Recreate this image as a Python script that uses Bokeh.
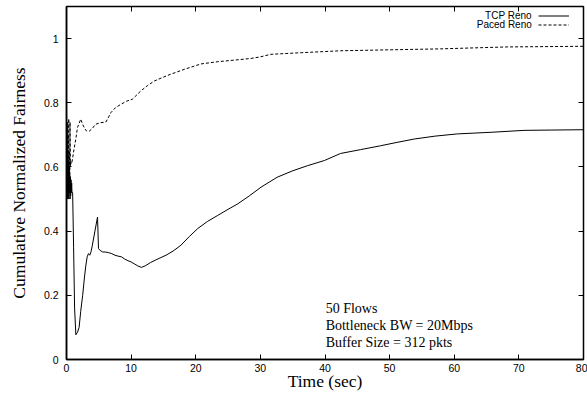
from bokeh.plotting import figure
from bokeh.models import LinearAxis, Range1d, Legend, LegendItem, Label, FixedTicker
from bokeh.embed import file_html
from bokeh.resources import INLINE

# TCP Reno (solid)
tcp_t = [0, 0.05, 0.1, 0.15, 0.2, 0.25, 0.3, 0.35, 0.4, 0.45, 0.5, 0.55, 0.6, 0.65, 0.7, 0.75, 0.8, 0.85, 0.95,
         1.1, 1.25, 1.45, 1.7, 1.95, 2.2, 2.5, 2.8, 3.0, 3.2, 3.4, 3.6, 3.8, 4.0, 4.4, 4.8, 4.95, 5.2, 5.6, 6.0,
         6.5, 7.0, 7.5, 8.0, 8.5, 9.0, 9.5, 10.0, 10.5, 11.0, 11.6, 12.2, 13.0, 14.0, 15.4, 16.5, 17.7, 19.0,
         20.3, 21.8, 23.4, 25.0, 26.5, 28.3, 30.1, 32.6, 35.0, 37.3, 39.9, 42.4, 45.5, 48.6, 51.0, 53.8, 57.0,
         60.5, 65.7, 70.8, 75.0, 80.0]
tcp_y = [0.81, 0.52, 0.74, 0.50, 0.65, 0.51, 0.62, 0.50, 0.60, 0.52, 0.58, 0.50, 0.57, 0.51, 0.56, 0.52, 0.55, 0.52, 0.52,
         0.35, 0.16, 0.077, 0.085, 0.10, 0.15, 0.20, 0.26, 0.294, 0.32, 0.33, 0.325, 0.336, 0.356, 0.40, 0.444, 0.346, 0.34, 0.335, 0.335,
         0.333, 0.33, 0.325, 0.322, 0.32, 0.313, 0.308, 0.304, 0.298, 0.292, 0.287, 0.292, 0.302, 0.312, 0.325, 0.338, 0.356, 0.383,
         0.408, 0.43, 0.449, 0.468, 0.485, 0.51, 0.537, 0.568, 0.588, 0.604, 0.620, 0.642, 0.654, 0.666, 0.676, 0.687, 0.696,
         0.703, 0.708, 0.714, 0.715, 0.716]

# Paced Reno (dashed)
paced_t = [0, 0.05, 0.1, 0.15, 0.2, 0.25, 0.3, 0.35, 0.4, 0.45, 0.5, 0.55, 0.6, 0.65, 0.7, 0.8, 0.93, 1.2, 1.44, 1.7,
           1.95, 2.2, 2.5, 2.8, 3.1, 3.5, 4.0, 4.5, 5.3, 6.1, 6.9, 7.6, 8.4, 9.3, 10.2, 11.5, 12.5, 13.6, 15.6, 18.2,
           20.8, 23.4, 26.0, 28.5, 30.0, 31.6, 36.3, 42.4, 50.0, 57.9, 63.0, 68.2, 74.0, 80.0]
paced_y = [0.55, 0.60, 0.52, 0.62, 0.55, 0.70, 0.53, 0.75, 0.56, 0.65, 0.58, 0.74, 0.60, 0.62, 0.61, 0.61, 0.625, 0.66, 0.687, 0.723,
           0.735, 0.749, 0.733, 0.72, 0.712, 0.711, 0.72, 0.733, 0.738, 0.74, 0.77, 0.785, 0.795, 0.805, 0.811, 0.837, 0.853, 0.868, 0.885, 0.904,
           0.921, 0.928, 0.933, 0.938, 0.943, 0.951, 0.956, 0.962, 0.965, 0.968, 0.971, 0.974, 0.975, 0.976]

x_ticks = [0, 10, 20, 30, 40, 50, 60, 70, 80]
y_ticks = [0, 0.2, 0.4, 0.6, 0.8, 1.0]
y_tick_labels = {0: "0", 0.2: "0.2", 0.4: "0.4", 0.6: "0.6", 0.8: "0.8", 1.0: "1"}
notes = ["50 Flows", "Bottleneck BW = 20Mbps", "Buffer Size = 312 pkts"]
series_names = ["TCP Reno", "Paced Reno"]

SANS = "Liberation Sans"
SERIF = "Liberation Serif"

p = figure(width=587, height=393, output_backend="svg", toolbar_location=None,
           x_range=Range1d(0, 80), y_range=Range1d(0, 1.1),
           min_border_left=66, min_border_right=4, min_border_top=6, min_border_bottom=32)
p.background_fill_color = "white"
p.border_fill_color = "white"
p.grid.visible = False
p.outline_line_color = "black"
p.outline_line_width = 1.5

r1 = p.line(tcp_t, tcp_y, line_color="black", line_width=1)
r2 = p.line(paced_t, paced_y, line_color="black", line_width=1, line_dash="3 2")

for ax in [p.xaxis[0], p.yaxis[0]]:
    ax.major_tick_in = 5
    ax.major_tick_out = 0
    ax.minor_tick_line_color = None
    ax.axis_line_color = "black"
    ax.axis_line_width = 1.5
    ax.major_tick_line_color = "black"
    ax.major_label_text_font = SANS
    ax.major_label_text_font_size = "10.5px"
    ax.major_label_text_color = "black"
    ax.axis_label_text_font = SERIF
    ax.axis_label_text_font_style = "normal"
    ax.axis_label_text_color = "black"

p.xaxis[0].ticker = FixedTicker(ticks=x_ticks)
p.yaxis[0].ticker = FixedTicker(ticks=y_ticks)
p.yaxis[0].major_label_overrides = y_tick_labels
p.xaxis[0].axis_label = "Time (sec)"
p.xaxis[0].axis_label_text_font_size = "17.5px"
p.xaxis[0].major_label_standoff = 4
p.xaxis[0].axis_label_standoff = -4
p.yaxis[0].axis_label = "Cumulative Normalized Fairness"
p.yaxis[0].axis_label_text_font_size = "17.5px"
p.yaxis[0].major_label_standoff = 8
p.yaxis[0].axis_label_standoff = 12

top = LinearAxis(ticker=FixedTicker(ticks=x_ticks), major_tick_in=5, major_tick_out=0,
                 major_label_overrides={t: "" for t in x_ticks},
                 major_label_text_font_size="1px", major_label_standoff=0,
                 minor_tick_line_color=None, axis_line_color=None)
right = LinearAxis(ticker=FixedTicker(ticks=y_ticks), major_tick_in=5, major_tick_out=0,
                   major_label_overrides={t: "" for t in y_ticks},
                   major_label_text_font_size="1px", major_label_standoff=0,
                   minor_tick_line_color=None, axis_line_color=None)
p.add_layout(top, "above")
p.add_layout(right, "right")

# legend: text labels right-aligned, line samples to the right
leg_y = [1.071, 1.043]
for name, yy in zip(series_names, leg_y):
    p.add_layout(Label(x=72.0, y=yy, text=name, text_align="right", text_baseline="middle",
                       text_font=SANS, text_font_size="10px", text_color="black"))

legend = Legend(items=[LegendItem(label=" ", renderers=[r1]), LegendItem(label=" ", renderers=[r2])],
                location=(472, 330), glyph_width=31, glyph_height=9, label_text_font_size="7px",
                label_standoff=0, label_width=0, label_height=9, spacing=0, padding=0, margin=0,
                background_fill_alpha=0, border_line_color=None)
p.add_layout(legend)

note_y = [0.16, 0.107, 0.054]
for txt, yy in zip(notes, note_y):
    p.add_layout(Label(x=40.1, y=yy, text=txt, text_align="left", text_baseline="middle",
                       text_font=SERIF, text_font_size="14px", text_color="black"))

open("out.html", "w").write(file_html(p, INLINE))
